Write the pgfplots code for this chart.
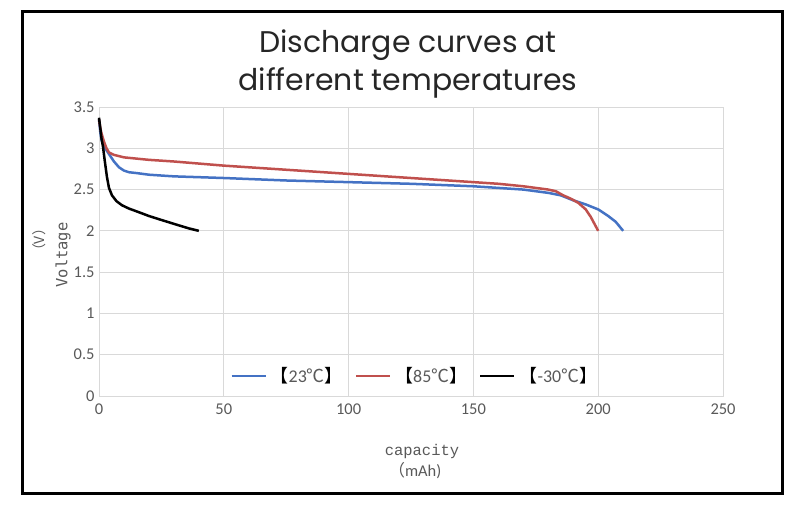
\documentclass[border=0pt]{standalone}
\usepackage{pgfplots}
\pgfplotsset{compat=1.18}
\usepackage{fontspec}
\setmainfont{Carlito}
\newfontfamily\titlefont{Poppins}
\newfontfamily\cjk{Noto Sans CJK SC}
\newfontfamily\mono{Liberation Mono}
\newfontfamily\smono{DejaVu Sans Mono}
\definecolor{tickgray}{HTML}{595959}
\definecolor{gridgray}{HTML}{D9D9D9}
\definecolor{xblue}{HTML}{4472C4}
\definecolor{xred}{HTML}{C0504D}
\newcommand{\lb}{{\cjk\color{black}【}}
\newcommand{\rb}{{\cjk\color{black}】}}
\newcommand{\dc}{{\cjk ℃}}
\begin{document}
\begin{tikzpicture}
\fill[white] (0,0) rectangle (802bp,516bp);
\useasboundingbox (0,0) rectangle (802bp,516bp);
\draw[line width=3bp] (22bp,22bp) rectangle (782bp,504bp);
\node[font=\titlefont\fontsize{30}{38}\selectfont, align=center, text=black!85] at (408bp,452bp) {Discharge curves at\\different temperatures};
\begin{axis}[
  at={(99bp,120bp)}, anchor=south west,
  scale only axis, width=624bp, height=289bp,
  xmin=0, xmax=250, ymin=0, ymax=3.5,
  xtick={0,50,...,250}, ytick={0,0.5,...,3.5},
  yticklabels={0,0.5,1,1.5,2,2.5,3,3.5},
  grid=major, major grid style={gridgray, line width=0.8bp},
  axis line style={gridgray, line width=0.8bp},
  major tick length=0pt,
  tick label style={font=\fontsize{16.5}{19}\selectfont, text=tickgray},
  /pgf/number format/assume math mode=true,
  xticklabel style={yshift=-4bp},
  yticklabel style={xshift=-1bp},
  legend columns=3,
  legend style={draw=none, fill=none, at={(0.506,0.069)}, anchor=center,
    font=\fontsize{18}{20}\selectfont, text=tickgray,
    /tikz/every odd column/.append style={column sep=2bp},
    /tikz/every even column/.append style={column sep=10bp}},
  legend image code/.code={\draw[#1, line width=2.5bp] (0bp,0bp) -- (34bp,0bp);},
  clip=false,
]
\addplot[xblue, line width=2.5bp, line join=round] coordinates {
(0,3.35) (0.5,3.2) (1,3.1) (2,3.02) (4,2.93) (6,2.84) (8,2.77) (10,2.73) (12,2.71) (15,2.70) (20,2.68) (30,2.66) (40,2.65) (50,2.64) (75,2.61) (100,2.59) (125,2.57) (150,2.54) (160,2.52) (170,2.50) (180,2.46) (185,2.43) (190,2.37) (195,2.32) (200,2.26) (204,2.18) (207,2.11) (210,2.00)};
\addlegendentry{\lb 23\dc\rb}
\addplot[xred, line width=2.5bp, line join=round] coordinates {
(0,3.35) (0.5,3.25) (1,3.18) (2,3.08) (3,3.00) (4,2.95) (6,2.92) (10,2.89) (20,2.86) (30,2.84) (46,2.80) (50,2.79) (75,2.74) (100,2.69) (125,2.64) (150,2.59) (160,2.57) (170,2.54) (180,2.50) (183,2.48) (186,2.43) (189,2.39) (192,2.34) (195,2.26) (197,2.17) (200,2.00)};
\addlegendentry{\lb 85\dc\rb}
\addplot[black, line width=2.5bp, line join=round] coordinates {
(0,3.37) (0.5,3.25) (1,3.12) (1.6,3.02) (2.3,2.85) (3.2,2.65) (4,2.52) (5.2,2.43) (7,2.36) (9.2,2.31) (12,2.27) (15.6,2.23) (20,2.18) (25.2,2.13) (31.6,2.07) (36,2.03) (40,2.00)};
\addlegendentry{\lb -30\dc\rb}
\end{axis}
\node[font=\mono\fontsize{15.5}{18}\selectfont, text=tickgray] at (422bp,64bp) {capacity};
\node[font=\fontsize{16.5}{19}\selectfont, text=tickgray] at (415bp,45bp) {{\cjk （}mAh)};
\node[rotate=90, font=\smono\fontsize{15.5}{18}\selectfont, text=tickgray] at (63bp,261bp) {Voltage};
\node[rotate=90, font=\cjk\fontsize{14}{16}\selectfont, text=tickgray] at (39bp,276bp) {（V）};
\end{tikzpicture}
\end{document}
